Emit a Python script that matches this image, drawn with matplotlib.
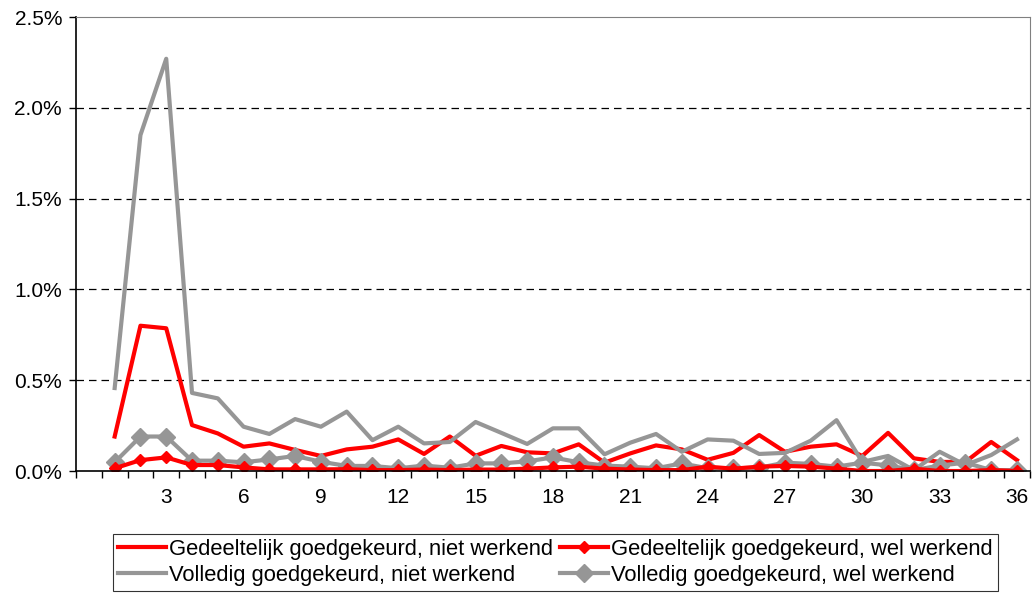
import numpy as np
import matplotlib
matplotlib.use('Agg')
import matplotlib.pyplot as plt
from matplotlib.ticker import FuncFormatter, MultipleLocator, FixedLocator

plt.rcParams['font.family'] = ['Liberation Sans', 'DejaVu Sans']

# categorie 1..36 (percentages)
maanden = list(range(1, 37))
ged_niet = [0.19, 0.80, 0.786, 0.253, 0.207, 0.134, 0.152, 0.116, 0.083, 0.119,
            0.134, 0.174, 0.094, 0.19, 0.084, 0.138, 0.103, 0.097, 0.147, 0.046,
            0.097, 0.141, 0.119, 0.062, 0.10, 0.198, 0.106, 0.134, 0.147, 0.083,
            0.21, 0.07, 0.05, 0.05, 0.16, 0.06]
ged_wel = [0.015, 0.06, 0.075, 0.033, 0.033, 0.02, 0.009, 0.009, 0.009, 0.01,
           0.005, 0.005, 0.008, 0.005, 0.008, 0.008, 0.013, 0.02, 0.024, 0.013,
           0.008, 0.005, 0.005, 0.024, 0.013, 0.024, 0.028, 0.024, 0.013, 0.0,
           0.0, 0.013, 0.0, 0.0, 0.005, 0.0]
vol_niet = [0.457, 1.85, 2.27, 0.43, 0.40, 0.244, 0.204, 0.286, 0.244, 0.327,
            0.17, 0.244, 0.152, 0.16, 0.27, 0.21, 0.149, 0.235, 0.235, 0.092,
            0.156, 0.204, 0.106, 0.174, 0.167, 0.094, 0.10, 0.167, 0.28, 0.05,
            0.083, 0.005, 0.106, 0.033, 0.088, 0.174]
vol_wel = [0.048, 0.19, 0.19, 0.057, 0.057, 0.048, 0.064, 0.083, 0.051, 0.028,
           0.028, 0.015, 0.03, 0.018, 0.042, 0.042, 0.053, 0.075, 0.048, 0.03,
           0.024, 0.015, 0.042, 0.015, 0.015, 0.018, 0.046, 0.039, 0.024, 0.046,
           0.031, 0.005, 0.03, 0.046, 0.005, 0.005]

fig = plt.figure(figsize=(10.34, 5.93), dpi=100)
ax = fig.add_axes([0.0735, 0.2057, 0.9225, 0.7656])

red = '#ff0000'
grey = '#969696'
lw = 3.0
l1, = ax.plot(maanden, ged_niet, color=red, lw=lw, label='Gedeeltelijk goedgekeurd, niet werkend')
l3, = ax.plot(maanden, vol_niet, color=grey, lw=lw, label='Volledig goedgekeurd, niet werkend')
l4, = ax.plot(maanden, vol_wel, color=grey, lw=lw, marker='D', ms=9, label='Volledig goedgekeurd, wel werkend')
l2, = ax.plot(maanden, ged_wel, color=red, lw=lw, marker='D', ms=6.5, label='Gedeeltelijk goedgekeurd, wel werkend')

ax.set_xlim(-0.5, 36.5)
ax.set_ylim(0, 2.5)
ax.yaxis.set_major_locator(MultipleLocator(0.5))
ax.yaxis.set_major_formatter(FuncFormatter(lambda v, p: f'{v:.1f}%'))
ax.xaxis.set_major_locator(FixedLocator(list(range(3, 37, 3))))
ax.xaxis.set_minor_locator(FixedLocator(np.arange(-0.5, 37, 1)))
ax.tick_params(axis='x', which='major', length=0, labelsize=15, pad=12)
ax.tick_params(axis='x', which='minor', length=5, width=1, direction='out')
ax.tick_params(axis='y', length=5, width=1, direction='out', labelsize=15, pad=5)

for v in [0.5, 1.0, 1.5, 2.0]:
    ax.axhline(v, color='black', lw=0.9, ls=(0, (6, 4)), zorder=0)

ax.spines['top'].set_color('#808080')
ax.spines['right'].set_color('#808080')
ax.spines['left'].set_linewidth(1.2)
ax.spines['bottom'].set_linewidth(1.2)

leg = fig.legend([l1, l3, l2, l4], [h.get_label() for h in [l1, l3, l2, l4]],
                 ncol=2, loc='lower center', bbox_to_anchor=(0.537, 0.004),
                 fontsize=15.8, frameon=True, fancybox=False, edgecolor='black',
                 handlelength=2.2, handletextpad=0.15, columnspacing=0.3,
                 labelspacing=0.22, borderpad=0.22, borderaxespad=0)
leg.get_frame().set_linewidth(0.8)

plt.savefig('out.png', dpi=100)
